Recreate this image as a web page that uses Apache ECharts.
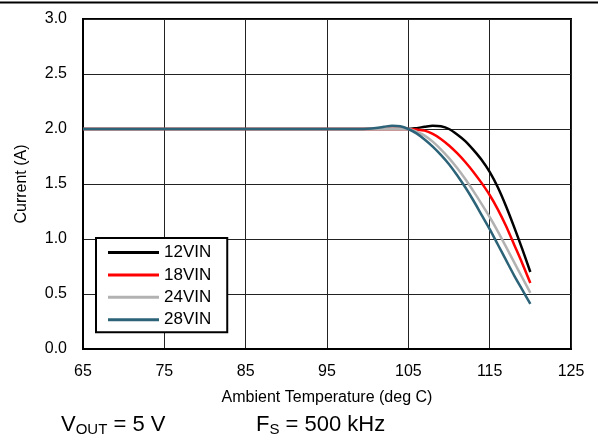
<!DOCTYPE html>
<html>
<head>
<meta charset="utf-8">
<script src="https://cdn.jsdelivr.net/npm/echarts@6/dist/echarts.min.js"></script>
<style>
html,body{margin:0;padding:0;background:#fff;}
#chart{width:598px;height:446px;}
</style>
</head>
<body>
<div id="chart"></div>
<script>
var temps = [65, 75, 85, 95, 99, 100, 101, 102, 103, 104, 105, 106, 107, 108, 109, 110, 111, 112, 113, 114, 115, 116, 117, 118, 119, 120];
var vin12 = [2.0, 2.0, 2.0, 2.0, 2.0, 2.0, 2.0, 2.0, 2.0, 2.0, 2.0, 2.008, 2.02, 2.03, 2.025, 2.0, 1.95, 1.89, 1.81, 1.72, 1.61, 1.47, 1.30, 1.11, 0.91, 0.70];
var vin18 = [2.0, 2.0, 2.0, 2.0, 2.0, 2.0, 2.0, 2.0, 2.0, 2.0, 2.0, 1.995, 1.985, 1.955, 1.91, 1.85, 1.78, 1.70, 1.61, 1.51, 1.40, 1.27, 1.12, 0.95, 0.78, 0.60];
var vin24 = [2.0, 2.0, 2.0, 2.0, 2.0, 2.0, 2.0, 2.0, 2.0, 2.0, 2.0, 1.975, 1.94, 1.885, 1.815, 1.735, 1.645, 1.545, 1.435, 1.32, 1.20, 1.07, 0.93, 0.79, 0.65, 0.51];
var vin28 = [2.0, 2.0, 2.0, 2.0, 2.0, 2.003, 2.01, 2.02, 2.03, 2.025, 2.0, 1.96, 1.905, 1.84, 1.765, 1.68, 1.58, 1.47, 1.35, 1.22, 1.09, 0.95, 0.81, 0.67, 0.54, 0.41];
var seriesNames = ['12VIN', '18VIN', '24VIN', '28VIN'];
var seriesValues = [vin12, vin18, vin24, vin28];
var seriesColors = ['#000000', '#ff0000', '#b2b2b2', '#2c6378'];

function pairs(vals) {
  return temps.map(function (t, i) { return [t, vals[i]]; });
}

var chart = echarts.init(document.getElementById('chart'), null, {renderer: 'canvas'});
var font = 'Arial, "Liberation Sans", sans-serif';

chart.setOption({
  animation: false,
  backgroundColor: '#ffffff',
  textStyle: {fontFamily: font},
  grid: {left: 83, right: 27, top: 19, bottom: 97, show: true, borderColor: '#000', borderWidth: 2, backgroundColor: 'transparent'},
  xAxis: {
    type: 'value', min: 65, max: 125, interval: 10,
    name: 'Ambient Temperature (deg C)', nameLocation: 'middle', nameGap: 41,
    nameTextStyle: {color: '#000', fontSize: 16, fontFamily: font},
    axisLine: {show: true, lineStyle: {color: '#000', width: 2}},
    axisTick: {show: false},
    axisLabel: {color: '#000', fontSize: 16, fontFamily: font, margin: 15},
    splitLine: {show: true, lineStyle: {color: '#222', width: 1}}
  },
  yAxis: {
    type: 'value', min: 0, max: 3, interval: 0.5,
    name: 'Current (A)', nameLocation: 'middle', nameGap: 53,
    nameTextStyle: {color: '#000', fontSize: 16, fontFamily: font},
    axisLine: {show: true, lineStyle: {color: '#000', width: 2}},
    axisTick: {show: false},
    axisLabel: {color: '#000', fontSize: 16, fontFamily: font, margin: 16,
      formatter: function (v) { return v.toFixed(1); }},
    splitLine: {show: true, lineStyle: {color: '#222', width: 1}}
  },
  legend: {
    orient: 'vertical', left: 96, top: 238,
    data: seriesNames,
    icon: 'rect', itemWidth: 51, itemHeight: 3, itemGap: 5.4,
    backgroundColor: '#fff', borderColor: '#000', borderWidth: 2,
    padding: [6, 16, 4, 12],
    textStyle: {color: '#000', fontSize: 17, fontFamily: font, lineHeight: 17}
  },
  series: seriesNames.map(function (n, i) {
    return {
      name: n, type: 'line', data: pairs(seriesValues[i]),
      smooth: 0.3, showSymbol: false, symbol: 'none',
      itemStyle: {color: seriesColors[i]},
      lineStyle: {color: seriesColors[i], width: 2.5},
      z: 2 + i
    };
  }),
  graphic: [
    {type: 'line', shape: {x1: 0, y1: 2.5, x2: 598, y2: 2.5}, style: {stroke: '#000', lineWidth: 2}},
    {type: 'text', left: 61, top: 414, style: {
      text: '{n|V}{s|OUT}{n| = 5 V}', fill: '#000',
      rich: {n: {fontSize: 22, fontFamily: font, fill: '#000'}, s: {fontSize: 15, fontFamily: font, fill: '#000', padding: [9, 0, 0, 0]}}
    }},
    {type: 'text', left: 256, top: 414, style: {
      text: '{n|F}{s|S}{n| = 500 kHz}', fill: '#000',
      rich: {n: {fontSize: 22, fontFamily: font, fill: '#000'}, s: {fontSize: 15, fontFamily: font, fill: '#000', padding: [9, 0, 0, 0]}}
    }}
  ]
});
</script>
</body>
</html>
